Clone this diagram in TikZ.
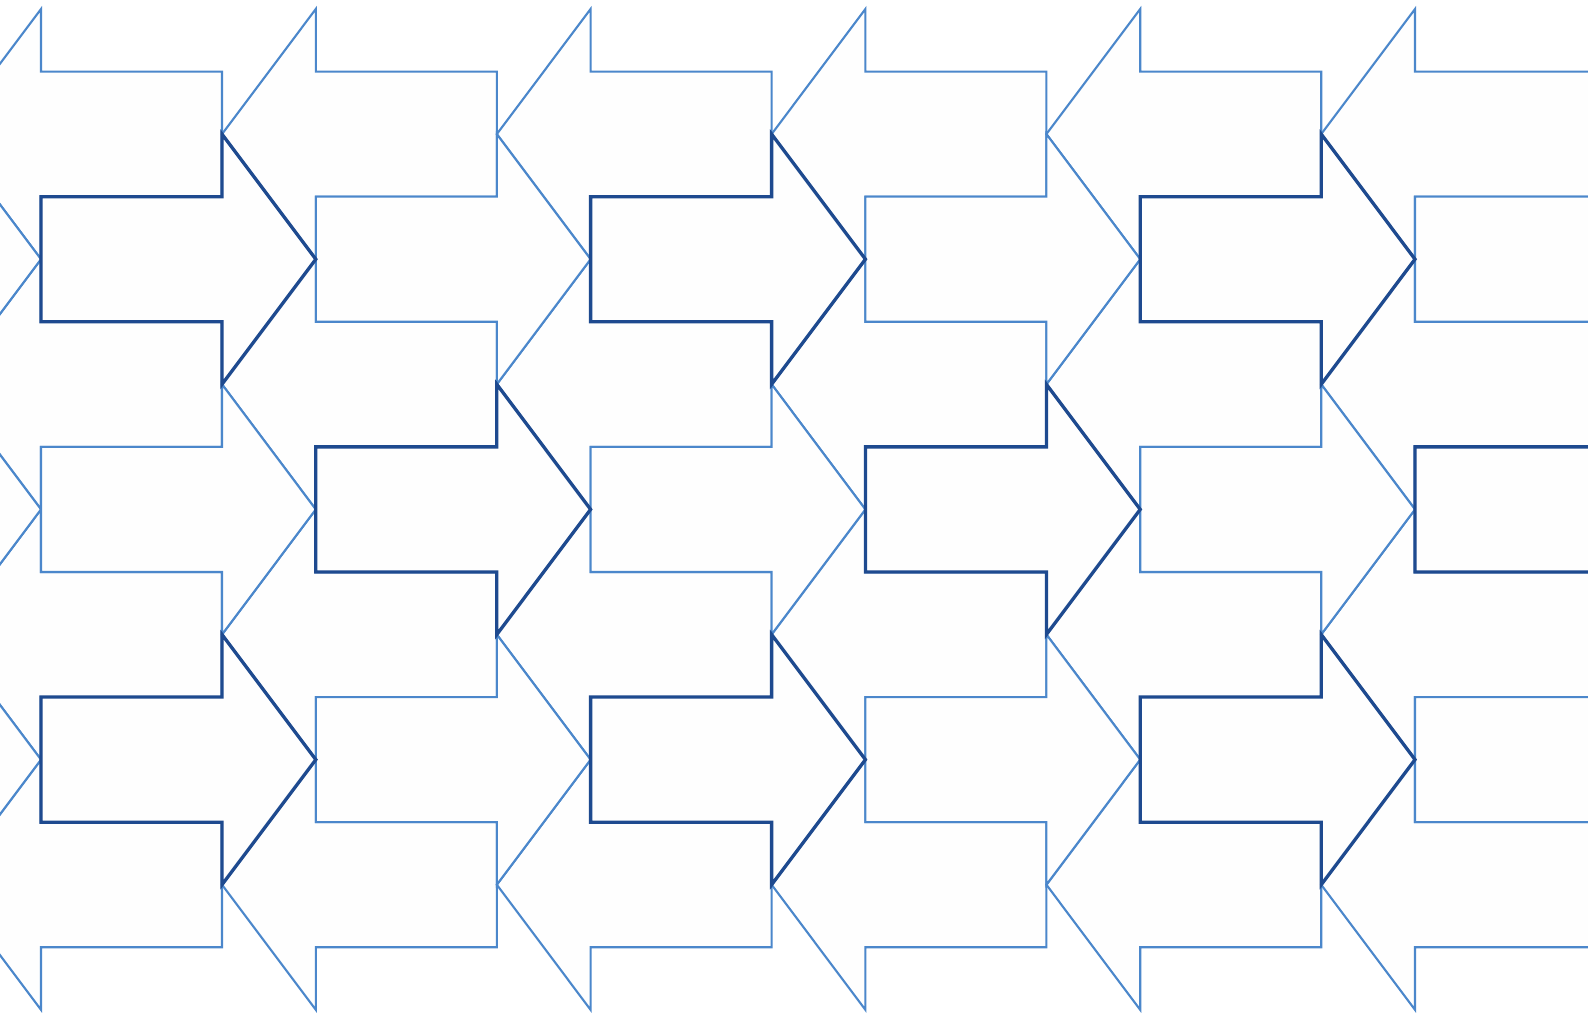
\documentclass[tikz,border=0pt]{standalone}
\usepackage{tikz}
\definecolor{ArrowLight}{HTML}{4B87CB}
\definecolor{ArrowDark}{HTML}{1E4A8F}
\definecolor{ArrowFill}{HTML}{FEFEFE}
\tikzset{
  lightarrow/.style = {draw = ArrowLight, fill = ArrowFill, line width = 1.05pt},
  darkarrow/.style = {draw = ArrowDark, fill = ArrowFill, line width = 1.65pt},
  arrowright/.pic = {\path [pic actions] (0, -62.55) -- (181, -62.55) -- (181, -125.1) -- (274.8, 0) -- (181, 125.1) -- (181, 62.55) -- (0, 62.55) -- cycle;},
  arrowleft/.pic = {\path [pic actions] (181, -62.55) -- (0, -62.55) -- (0, -125.1) -- (-93.8, 0) -- (0, 125.1) -- (0, 62.55) -- (181, 62.55) -- cycle;}
}

\begin{document}
\begin{tikzpicture}[x = 0.5pt, y = -0.5pt]
						\path [use as bounding box, fill = white] (0, 0) rectangle (1588, 1018);
						\clip (0, 0) rectangle (1588, 1018);
						% rows pointing left
						\foreach \r in {1, 3, 5, 7}
							\foreach \k in {-1, ..., 5}
								\pic [lightarrow] at ({41 + 274.8*\k}, {9 + 125.1*\r}) {arrowleft};
						% rows pointing right
						\foreach \r in {2, 4, 6}
							\foreach \k in {-1, ..., 5}
								\pic [lightarrow] at ({41 + 274.8*\k}, {9 + 125.1*\r}) {arrowright};
						\foreach \r/\k in {2/0, 2/2, 2/4, 4/1, 4/3, 4/5, 6/0, 6/2, 6/4}
							\pic [darkarrow] at ({41 + 274.8*\k}, {9 + 125.1*\r}) {arrowright};
					\end{tikzpicture}
\end{document}
